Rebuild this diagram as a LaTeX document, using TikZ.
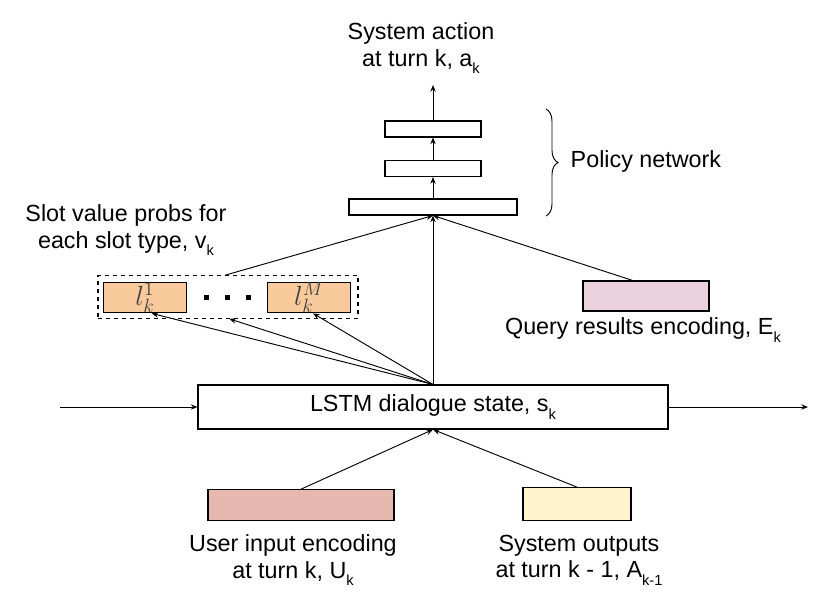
\documentclass[tikz,border=0pt]{standalone}
\usepackage{fontspec}
\setmainfont{Liberation Sans}
\usetikzlibrary{arrows.meta,decorations.pathreplacing}
\definecolor{slotorange}{HTML}{F9CB9C}
\definecolor{querypink}{HTML}{EAD1DC}
\definecolor{userred}{HTML}{E6B8AF}
\definecolor{sysyellow}{HTML}{FFF2CC}
\newcommand{\lowsub}[1]{\raisebox{-0.32em}{\fontsize{11}{11}\selectfont #1}}

\begin{document}
\begin{tikzpicture}[x=0.75pt, y=-0.75pt,
            layer/.style={rectangle, draw, line width=0.8pt, inner sep=0pt, minimum height=12pt},
            encoding/.style={rectangle, draw, line width=0.8pt, inner sep=0pt, minimum height=23pt},
            slot/.style={rectangle, draw, line width=0.8pt, fill=slotorange, inner sep=0pt, minimum width=62pt, minimum height=23pt, font=\fontsize{21}{22}\selectfont, text=black!75},
            caption/.style={align=center, font=\fontsize{17.5}{20}\selectfont},
            arr/.style={-{Stealth[length=5pt, width=4pt]}, line width=0.7pt}
        ]
        \useasboundingbox (0,0) rectangle (830,614);

        % Policy network
        \node[caption] (action) at (421,48) {System action\\at turn k, a\lowsub{k}};
        \coordinate (actionout) at (433,85);
        \node[layer, minimum width=72pt] (hidden2) at (433,129) {};
        \node[layer, minimum width=72pt] (hidden1) at (433,168.5) {};
        \node[layer, minimum width=126pt] (input) at (433,207) {};
        \coordinate (bracetop) at (546,109);
        \coordinate (bracebot) at (546,216);
        \node[caption, anchor=west] (policy) at (566,161) {Policy network};

        % Slot value probabilities
        \node[caption] (slotlabel) at (126,230) {Slot value probs for\\each slot type, v\lowsub{k}};
        \node[rectangle, draw, dashed, line width=0.8pt, minimum width=195pt, minimum height=32pt] (slots) at (228,297) {};
        \node[slot] (slotfirst) at (145,297.5) {$l_k^1$};
        \node[slot] (slotlast) at (309,297.5) {$l_k^M$};
        \foreach \x in {206,227,248}
            \fill (\x,297) +(-2.5,-2.5) rectangle +(2.5,2.5);

        % Query results
        \node[encoding, fill=querypink, minimum width=94.5pt, minimum height=22.5pt] (query) at (646,296) {};
        \node[caption] (querylabel) at (643,330) {Query results encoding, E\lowsub{k}};

        % LSTM state
        \node[rectangle, draw, line width=0.8pt, minimum width=352.5pt, minimum height=33pt, caption] (lstm) at (433,407) {LSTM dialogue state, s\lowsub{k}};
        \coordinate (prevstate) at (60,407);
        \coordinate (nextstate) at (808,407);

        % Inputs
        \node[encoding, fill=userred, minimum width=139.5pt, minimum height=23pt] (user) at (301,505) {};
        \node[caption] (userlabel) at (293,560) {User input encoding\\at turn k, U\lowsub{k}};
        \node[encoding, fill=sysyellow, minimum width=81pt, minimum height=24.5pt] (sysout) at (577,504) {};
        \node[caption] (syslabel) at (579,560) {System outputs\\at turn k - 1, A\lowsub{k-1}};

        % Connections
        \draw[arr] (hidden2.north) -- (actionout);
        \draw[arr] (hidden1.north) -- (hidden2.south);
        \draw[arr] (input.north) -- (hidden1.south);
        \draw[line width=0.7pt, decorate, decoration={brace, amplitude=9pt}] (bracetop) -- (bracebot);
        \draw[arr] ([xshift=-2pt]slots.north) -- (input.south);
        \draw[arr] ([xshift=-10pt]query.north) -- (input.south);
        \draw[arr] (lstm.north) -- (input.south);
        \draw[arr] (lstm.north) -- ([xshift=5pt]slotfirst.south);
        \draw[arr] (lstm.north) -- ([xshift=1pt]slots.south);
        \draw[arr] (lstm.north) -- ([xshift=3pt]slotlast.south);
        \draw[arr] (prevstate) -- (lstm.west);
        \draw[arr] (lstm.east) -- (nextstate);
        \draw[arr] (user.north) -- (lstm.south);
        \draw[arr] (sysout.north) -- (lstm.south);

    \end{tikzpicture}
\end{document}
